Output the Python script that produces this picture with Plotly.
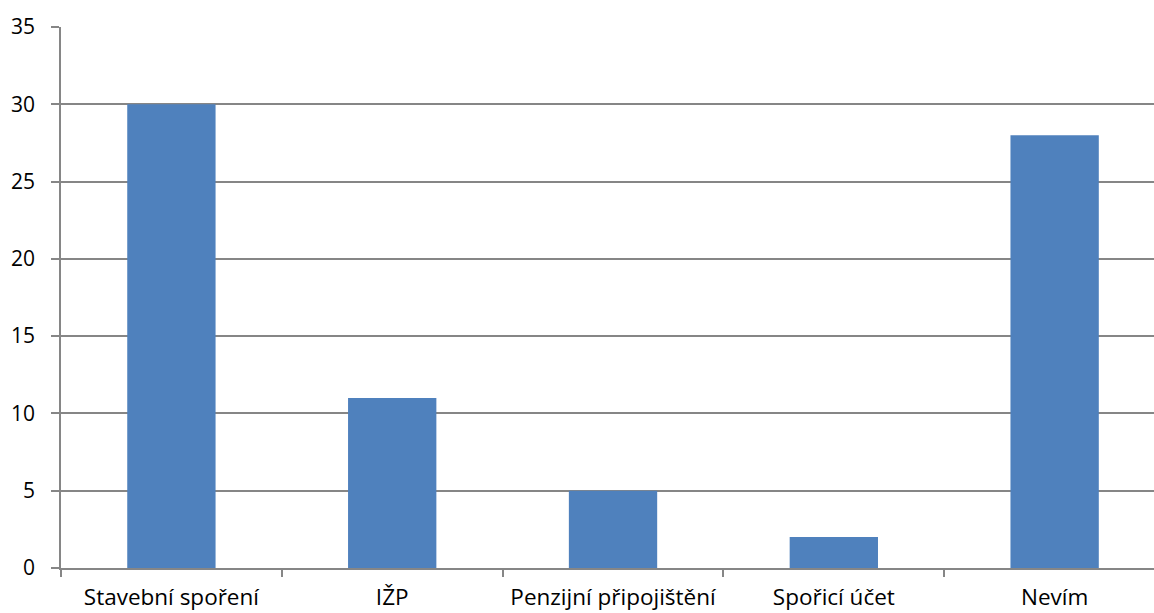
import plotly.graph_objects as go

categories = ["Stavební spoření", "IŽP", "Penzijní připojištění", "Spořicí účet", "Nevím"]
values = [30, 11, 5, 2, 28]
y_ticks = [0, 5, 10, 15, 20, 25, 30, 35]

AXIS_GREY = "#868686"
BAR_BLUE = "#4f81bd"
FONT = "Open Sans"

fig = go.Figure(
    go.Bar(
        x=categories,
        y=values,
        marker=dict(color=BAR_BLUE, line=dict(width=0)),
        width=0.4,
    )
)

fig.update_layout(
    width=1154,
    height=613,
    margin=dict(l=61, r=0, t=27, b=45),
    paper_bgcolor="white",
    plot_bgcolor="white",
    showlegend=False,
    font=dict(family=FONT, size=21, color="black"),
)

fig.update_xaxes(
    type="category",
    range=[-0.5, 4.45],
    tickson="boundaries",
    ticks="outside",
    ticklen=7,
    tickwidth=1.5,
    tickcolor=AXIS_GREY,
    ticklabelstandoff=8,
    showgrid=False,
    showline=True,
    linecolor=AXIS_GREY,
    linewidth=1.5,
    zeroline=False,
    tickfont=dict(family=FONT, size=22.5, color="black"),
)

fig.update_yaxes(
    range=[0, 35],
    tickvals=y_ticks,
    ticks="outside",
    ticklen=8,
    tickwidth=1.5,
    tickcolor=AXIS_GREY,
    ticklabelstandoff=12,
    showgrid=True,
    gridcolor=AXIS_GREY,
    gridwidth=1.5,
    showline=True,
    linecolor=AXIS_GREY,
    linewidth=1.5,
    zeroline=False,
    tickfont=dict(family=FONT, size=21, color="black"),
)

fig.write_html("out.html")
